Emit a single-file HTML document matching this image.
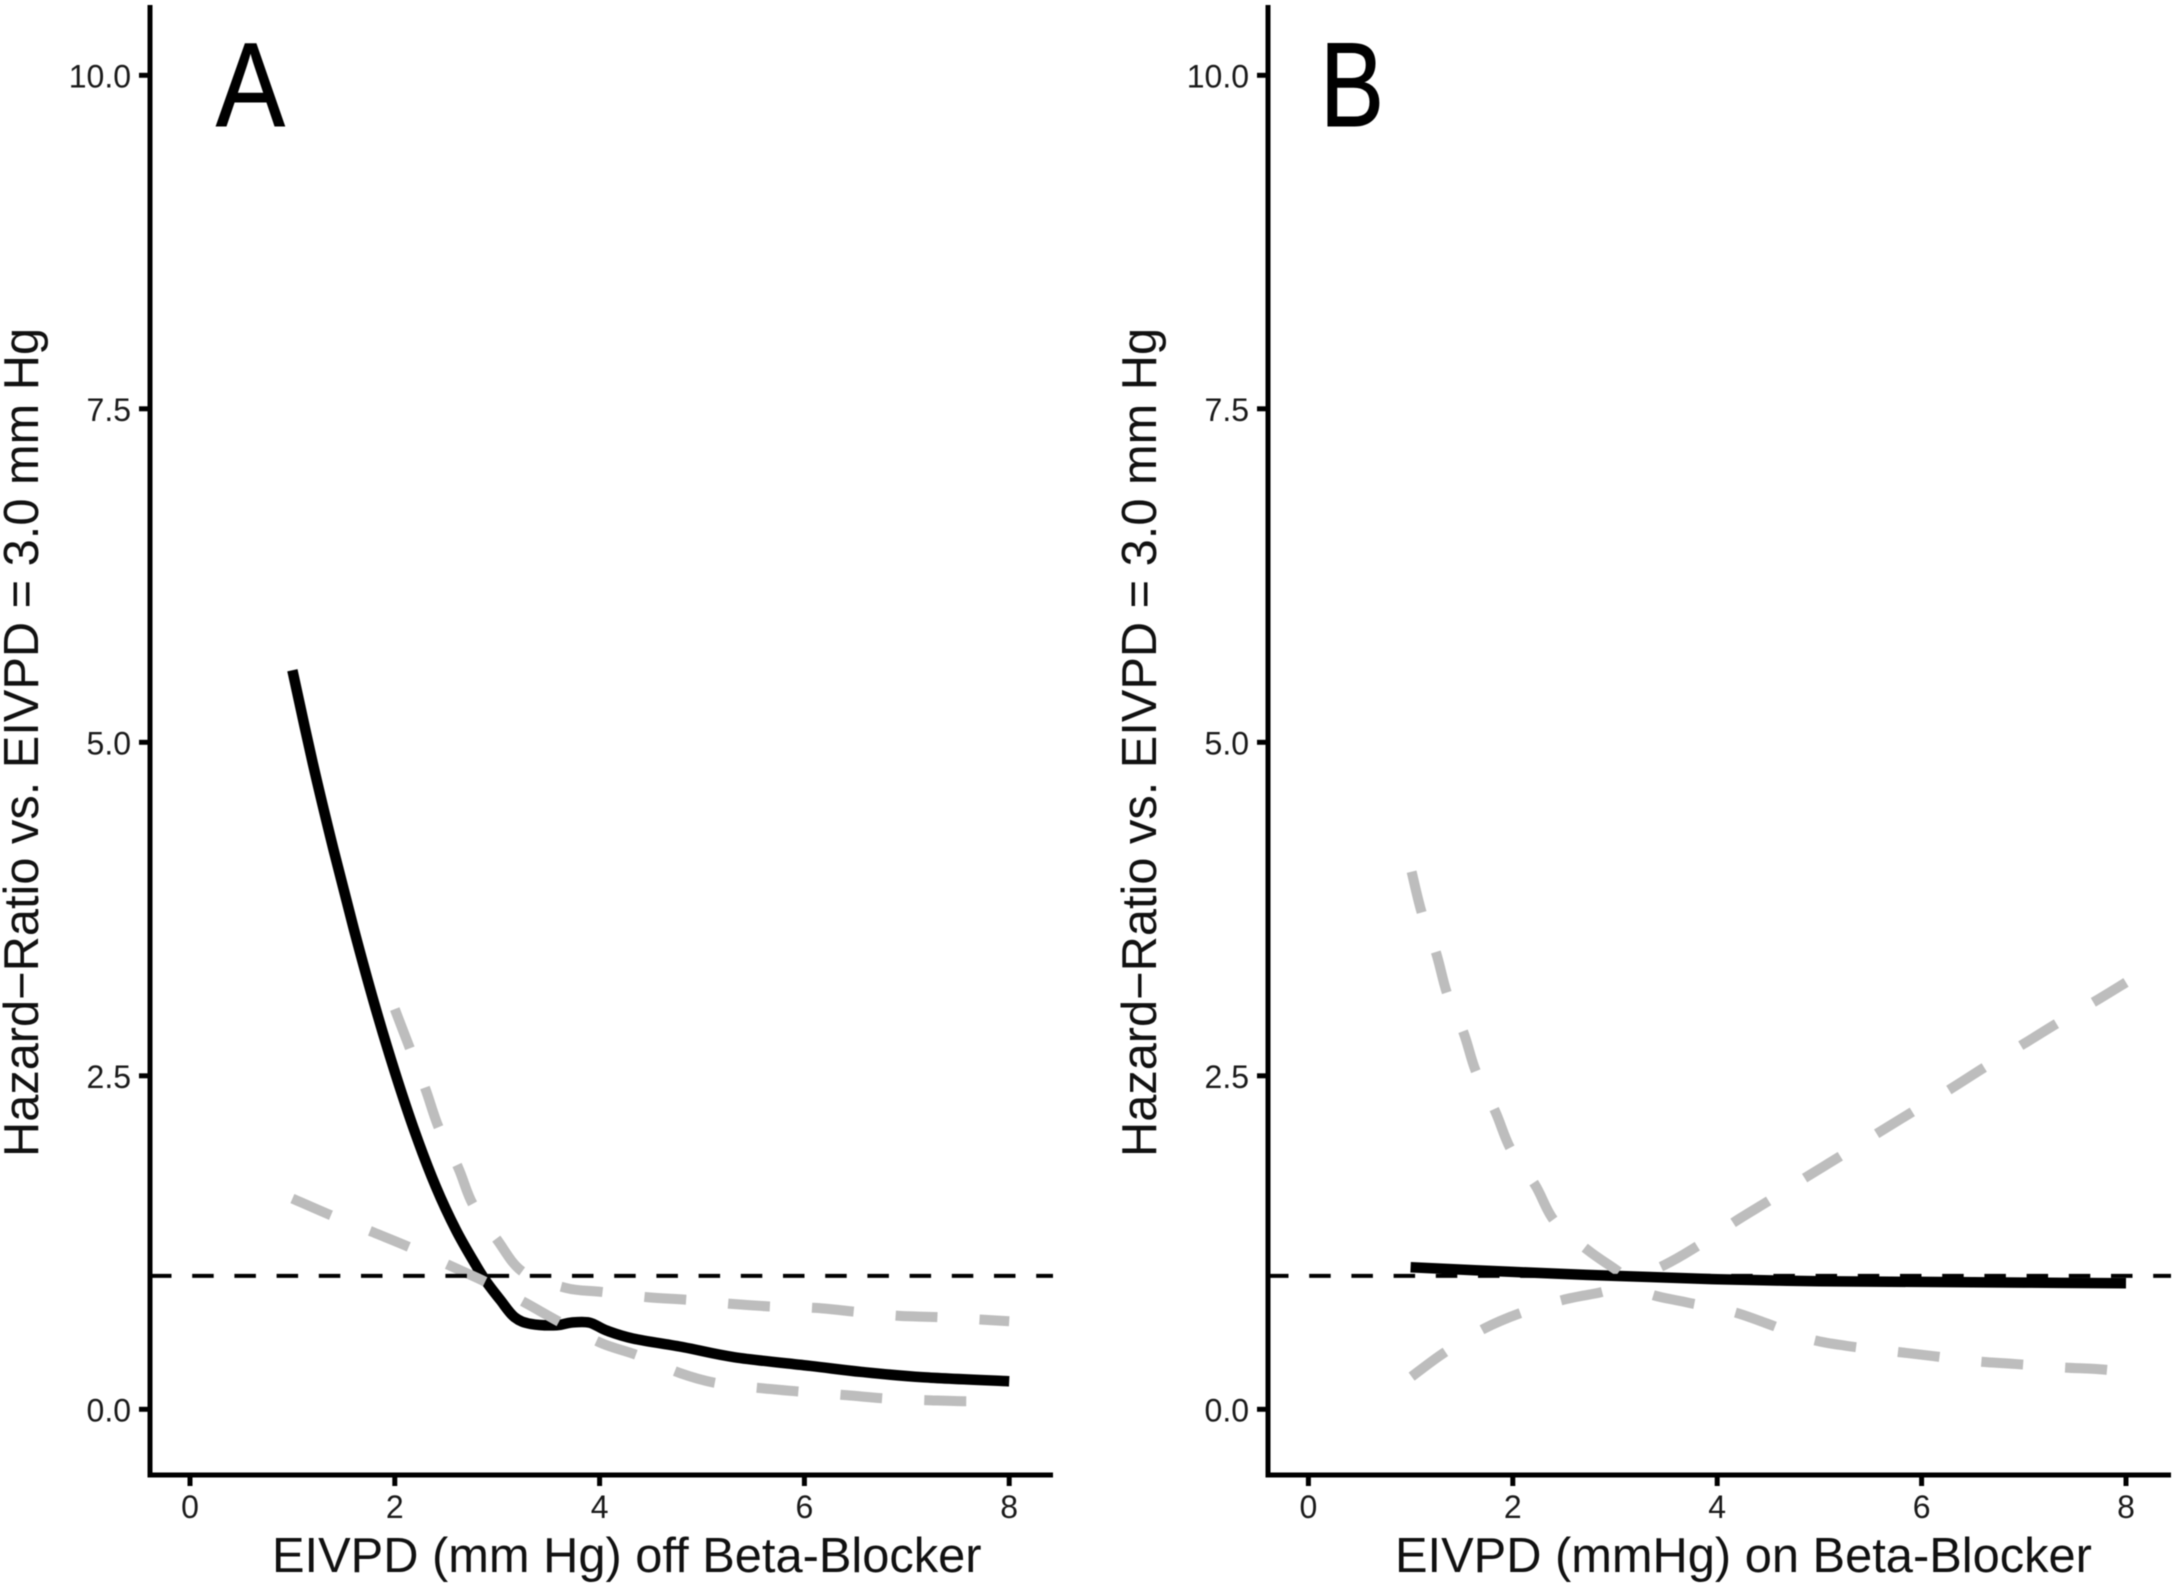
<!DOCTYPE html>
<html lang="en">
<head>
<meta charset="utf-8">
<title>Hazard ratio vs. EIVPD</title>
<style>
html,body{margin:0;padding:0;background:#fff;}
#chart{display:block;filter:blur(0.5px);}
text{font-family:"Liberation Sans",sans-serif;}
</style>
</head>
<body>
<svg id="chart" xmlns="http://www.w3.org/2000/svg" width="2175" height="1585" viewBox="0 0 2175 1585">
  <rect x="0" y="0" width="2175" height="1585" fill="#fff"/>
  <g id="panel-a">
    <g id="a-marks"></g>
    <line x1="150" y1="5" x2="150" y2="1477.5" stroke="#000" stroke-width="5"/>
    <line x1="147.5" y1="1475" x2="1053" y2="1475" stroke="#000" stroke-width="5"/>
    <g id="a-ticks"></g>
    <text transform="translate(38,1157) rotate(-90)" font-size="48.75" fill="#111">Hazard−Ratio vs. EIVPD = 3.0 mm Hg</text>
    <text x="272" y="1572" font-size="48.8" fill="#111">EIVPD (mm Hg) off Beta-Blocker</text>
    <text transform="translate(216,126) scale(0.86,1)" font-size="120" fill="#000" stroke="#000" stroke-width="1">A</text>
  </g>
  <g id="panel-b">
    <g id="b-marks"></g>
    <line x1="1268" y1="5" x2="1268" y2="1477.5" stroke="#000" stroke-width="5"/>
    <line x1="1265.5" y1="1475" x2="2171" y2="1475" stroke="#000" stroke-width="5"/>
    <g id="b-ticks"></g>
    <text transform="translate(1156,1157) rotate(-90)" font-size="48.75" fill="#111">Hazard−Ratio vs. EIVPD = 3.0 mm Hg</text>
    <text x="1395" y="1572" font-size="48.8" fill="#111">EIVPD (mmHg) on Beta-Blocker</text>
    <text transform="translate(1320,126) scale(0.8,1)" font-size="120" fill="#000" stroke="#000" stroke-width="1">B</text>
  </g>
</svg>
<script>
// Tick labels
const xTickValues = [0, 2, 4, 6, 8];
const yTickValues = [0, 2.5, 5, 7.5, 10];
const yTickLabels = ["0.0", "2.5", "5.0", "7.5", "10.0"];
const referenceHazard = 1;

// Panel A: EIVPD off beta-blocker
const aMainX = [1.0, 1.2, 1.4, 1.6, 1.8, 2.0, 2.2, 2.4, 2.6, 2.8, 2.9, 3.03, 3.17, 3.33, 3.58, 3.72, 3.9, 4.07, 4.33, 4.82, 5.32, 6.06, 6.56, 7.16, 8.0];
const aMainY = [5.54, 4.84, 4.2, 3.6, 3.04, 2.53, 2.07, 1.67, 1.34, 1.07, 0.95, 0.82, 0.69, 0.64, 0.63, 0.65, 0.65, 0.59, 0.53, 0.465, 0.39, 0.325, 0.28, 0.24, 0.21];
const aUpperX = [2.0, 2.15, 2.3, 2.43, 2.62, 2.76, 3.0, 3.25, 3.67, 4.02, 4.47, 4.87, 5.29, 5.69, 6.11, 6.51, 6.93, 7.33, 8.0];
const aUpperY = [3.0, 2.7, 2.4, 2.11, 1.81, 1.54, 1.27, 1.03, 0.91, 0.88, 0.84, 0.82, 0.79, 0.77, 0.76, 0.73, 0.7, 0.69, 0.66];
const aLowerX = [1.0, 1.39, 1.78, 2.16, 2.53, 2.9, 3.27, 3.62, 4.02, 4.37, 4.79, 5.15, 5.6, 6.0, 6.42, 6.82, 7.24, 7.64, 7.95];
const aLowerY = [1.58, 1.45, 1.33, 1.21, 1.08, 0.95, 0.8, 0.65, 0.495, 0.405, 0.27, 0.195, 0.157, 0.13, 0.105, 0.08, 0.067, 0.06, 0.07];

// Panel B: EIVPD on beta-blocker
const bMainX = [1.0, 2.0, 3.0, 4.0, 5.0, 6.0, 7.0, 8.0];
const bMainY = [1.065, 1.03, 1.0, 0.975, 0.96, 0.955, 0.95, 0.945];
const bUpperX = [1.01, 1.11, 1.25, 1.36, 1.52, 1.64, 1.83, 1.98, 2.22, 2.41, 2.74, 3.03, 3.3, 3.68, 4.13, 4.47, 4.89, 5.27, 5.71, 6.1, 6.53, 6.91, 7.35, 7.74, 8.0];
const bUpperY = [4.03, 3.72, 3.42, 3.11, 2.82, 2.53, 2.23, 1.95, 1.68, 1.41, 1.19, 1.035, 0.877, 0.805, 0.735, 0.648, 0.53, 0.475, 0.435, 0.4, 0.36, 0.34, 0.315, 0.3, 0.28];
const bLowerX = [1.01, 1.32, 1.72, 2.07, 2.49, 2.86, 3.0, 3.48, 3.8, 4.2, 4.52, 4.87, 5.19, 5.59, 5.91, 6.28, 6.63, 7.0, 7.34, 7.7, 8.0];
const bLowerY = [0.245, 0.42, 0.605, 0.72, 0.82, 0.877, 0.92, 1.08, 1.22, 1.42, 1.57, 1.74, 1.89, 2.08, 2.23, 2.4, 2.57, 2.74, 2.9, 3.06, 3.2];

const SVGNS = "http://www.w3.org/2000/svg";
function xScaleA(v) { return 190 + v * 102.4; }
function xScaleB(v) { return 1308.4 + v * 102.2; }
function yScale(v) { return 1409.3 - v * 133.4; }

function curvePath(xs, ys, xScale) {
  const p = xs.map(function (x, i) { return [xScale(x), yScale(ys[i])]; });
  let d = "M" + p[0][0].toFixed(2) + " " + p[0][1].toFixed(2);
  for (let i = 0; i < p.length - 1; i++) {
    const a = p[Math.max(i - 1, 0)], b = p[i], c = p[i + 1], e = p[Math.min(i + 2, p.length - 1)];
    const c1x = b[0] + (c[0] - a[0]) / 6, c1y = b[1] + (c[1] - a[1]) / 6;
    const c2x = c[0] - (e[0] - b[0]) / 6, c2y = c[1] - (e[1] - b[1]) / 6;
    d += "C" + [c1x, c1y, c2x, c2y, c[0], c[1]].map(function (n) { return n.toFixed(2); }).join(" ");
  }
  return d;
}

function drawSeries(parent, xs, ys, xScale, label, color, width, dash) {
  const el = document.createElementNS(SVGNS, "path");
  
  
  el.setAttribute("d", curvePath(xs, ys, xScale));
  el.setAttribute("fill", "none");
  el.setAttribute("stroke", color);
  el.setAttribute("stroke-width", width);
  if (dash) el.setAttribute("stroke-dasharray", dash);
  parent.appendChild(el);
}

function drawReference(parent, x1, x2, label) {
  const el = document.createElementNS(SVGNS, "line");
  
  
  el.setAttribute("x1", x1);
  el.setAttribute("x2", x2);
  el.setAttribute("y1", yScale(referenceHazard));
  el.setAttribute("y2", yScale(referenceHazard));
  el.setAttribute("stroke", "#000");
  el.setAttribute("stroke-width", "4");
  el.setAttribute("stroke-dasharray", "21.5 20.7");
  parent.appendChild(el);
}

function drawTicks(parent, axisX, xScale) {
  xTickValues.forEach(function (v) {
    const t = document.createElementNS(SVGNS, "line");
    
    
    t.setAttribute("x1", xScale(v));
    t.setAttribute("x2", xScale(v));
    t.setAttribute("y1", 1475);
    t.setAttribute("y2", 1486);
    t.setAttribute("stroke", "#000");
    t.setAttribute("stroke-width", "5");
    parent.appendChild(t);
    const l = document.createElementNS(SVGNS, "text");
    
    
    l.setAttribute("x", xScale(v));
    l.setAttribute("y", 1518);
    l.setAttribute("text-anchor", "middle");
    l.setAttribute("font-size", "32");
    l.setAttribute("fill", "#1a1a1a");
    l.textContent = String(v);
    parent.appendChild(l);
  });
  yTickValues.forEach(function (v, i) {
    const t = document.createElementNS(SVGNS, "line");
    
    
    t.setAttribute("x1", axisX - 11);
    t.setAttribute("x2", axisX);
    t.setAttribute("y1", yScale(v));
    t.setAttribute("y2", yScale(v));
    t.setAttribute("stroke", "#000");
    t.setAttribute("stroke-width", "5");
    parent.appendChild(t);
    const l = document.createElementNS(SVGNS, "text");
    
    
    l.setAttribute("x", axisX - 19);
    l.setAttribute("y", yScale(v) + 12);
    l.setAttribute("text-anchor", "end");
    l.setAttribute("font-size", "32");
    l.setAttribute("fill", "#1a1a1a");
    l.textContent = yTickLabels[i];
    parent.appendChild(l);
  });
}

const aMarks = document.getElementById("a-marks");
const bMarks = document.getElementById("b-marks");
const GREY = "#bdbdbd", GREY_W = 10, GREY_DASH = "42 42", MAIN_W = 10.5;
const GREY_DASH_B_LOWER = "42 42.5 42 42.5 42 64 42 42.5 42 42.5 42 42.5 42 42.5 42 42.5 42 42.5 42 42.5";

drawSeries(aMarks, aMainX, aMainY, xScaleA, "panel-a-hazard-ratio-line", "#000", MAIN_W);
drawSeries(aMarks, aUpperX, aUpperY, xScaleA, "panel-a-upper-ci-line", GREY, GREY_W, GREY_DASH);
drawSeries(aMarks, aLowerX, aLowerY, xScaleA, "panel-a-lower-ci-line", GREY, GREY_W, GREY_DASH);
drawReference(aMarks, 150, 1053, "panel-a-reference-line");

drawSeries(bMarks, bMainX, bMainY, xScaleB, "panel-b-hazard-ratio-line", "#000", MAIN_W);
drawSeries(bMarks, bUpperX, bUpperY, xScaleB, "panel-b-upper-ci-line", GREY, GREY_W, GREY_DASH);
drawSeries(bMarks, bLowerX, bLowerY, xScaleB, "panel-b-lower-ci-line", GREY, GREY_W, GREY_DASH_B_LOWER);
drawReference(bMarks, 1267, 2171, "panel-b-reference-line");

drawTicks(document.getElementById("a-ticks"), 150, xScaleA);
drawTicks(document.getElementById("b-ticks"), 1268, xScaleB);
</script>
</body>
</html>
